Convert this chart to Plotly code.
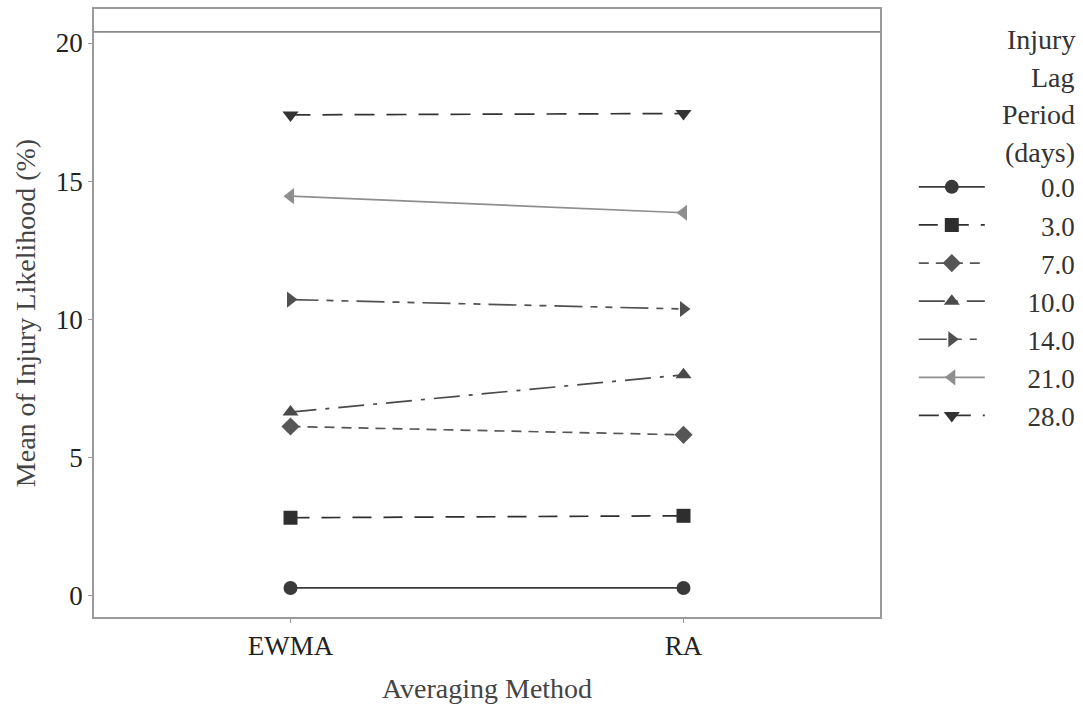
import plotly.graph_objects as go

methods = ["EWMA", "RA"]
lag_labels = ["0.0", "3.0", "7.0", "10.0", "14.0", "21.0", "28.0"]
values = {
    "0.0": [0.29, 0.29],
    "3.0": [2.83, 2.90],
    "7.0": [6.13, 5.83],
    "10.0": [6.65, 8.00],
    "14.0": [10.72, 10.38],
    "21.0": [14.46, 13.86],
    "28.0": [17.40, 17.45],
}
ref_level = 20.4
legend_title_lines = ["Injury", "Lag", "Period", "(days)"]

symbols = ["circle", "square", "diamond", "triangle-up", "triangle-right", "triangle-left", "triangle-down"]
dashes = ["solid", "19px,12px", "10px,7px", "26px,9px,4px,9px", "28px,8px,7px,8px,7px,8px", "solid", "20px,12px"]
colors = ["#3a3a3a", "#2e2e2e", "#565656", "#4a4a4a", "#505050", "#8e8e8e", "#333333"]

FONT = "Liberation Serif"
fig = go.Figure()

for i, lab in enumerate(lag_labels):
    pad = "\u2007\u2007\u2009\u2009" + "\u2007" * (4 - len(lab))
    fig.add_trace(go.Scatter(
        x=methods, y=values[lab], mode="lines+markers",
        name=pad + lab, legendgroup=lab,
        line=dict(color=colors[i], width=1.7, dash=dashes[i]),
        marker=dict(symbol=symbols[i], size=14, color=colors[i]),
    ))

fig.add_hline(y=ref_level, line=dict(color="#8a8a8a", width=1.8))

title_ys = [0.950, 0.887, 0.826, 0.764]
for t, yy in zip(legend_title_lines, title_ys):
    fig.add_annotation(text=t, xref="paper", yref="paper", x=1.250, y=yy,
                       xanchor="right", yanchor="middle", showarrow=False,
                       font=dict(family=FONT, size=28, color="#333333"))

fig.update_layout(
    width=1083, height=712,
    margin=dict(l=94, r=203, t=9, b=95, autoexpand=False),
    paper_bgcolor="white", plot_bgcolor="white",
    font=dict(family=FONT, size=27, color="#333333"),
    legend=dict(x=1.043, y=0.747, xanchor="left", yanchor="top",
                font=dict(family=FONT, size=27, color="#333333"),
                tracegroupgap=0, itemwidth=66, bgcolor="rgba(0,0,0,0)"),
    xaxis=dict(type="category", range=[-0.5, 1.5], showgrid=False, zeroline=False,
               showline=True, mirror=True, linecolor="#9a9a9a", linewidth=1.5,
               ticks="outside", ticklen=4, tickcolor="#9a9a9a",
               tickfont=dict(family=FONT, size=27, color="#222222"),
               title=dict(text="Averaging Method", font=dict(family=FONT, size=28, color="#444444"), standoff=18)),
    yaxis=dict(range=[-0.76, 21.23], tickvals=[0, 5, 10, 15, 20], showgrid=False, zeroline=False,
               showline=True, mirror=True, linecolor="#9a9a9a", linewidth=1.5,
               ticks="outside", ticklen=4, tickcolor="#9a9a9a",
               tickfont=dict(family=FONT, size=27, color="#222222"),
               title=dict(text="Mean of Injury Likelihood (%)", font=dict(family=FONT, size=28, color="#444444"), standoff=12)),
)

fig.write_html("out.html")
